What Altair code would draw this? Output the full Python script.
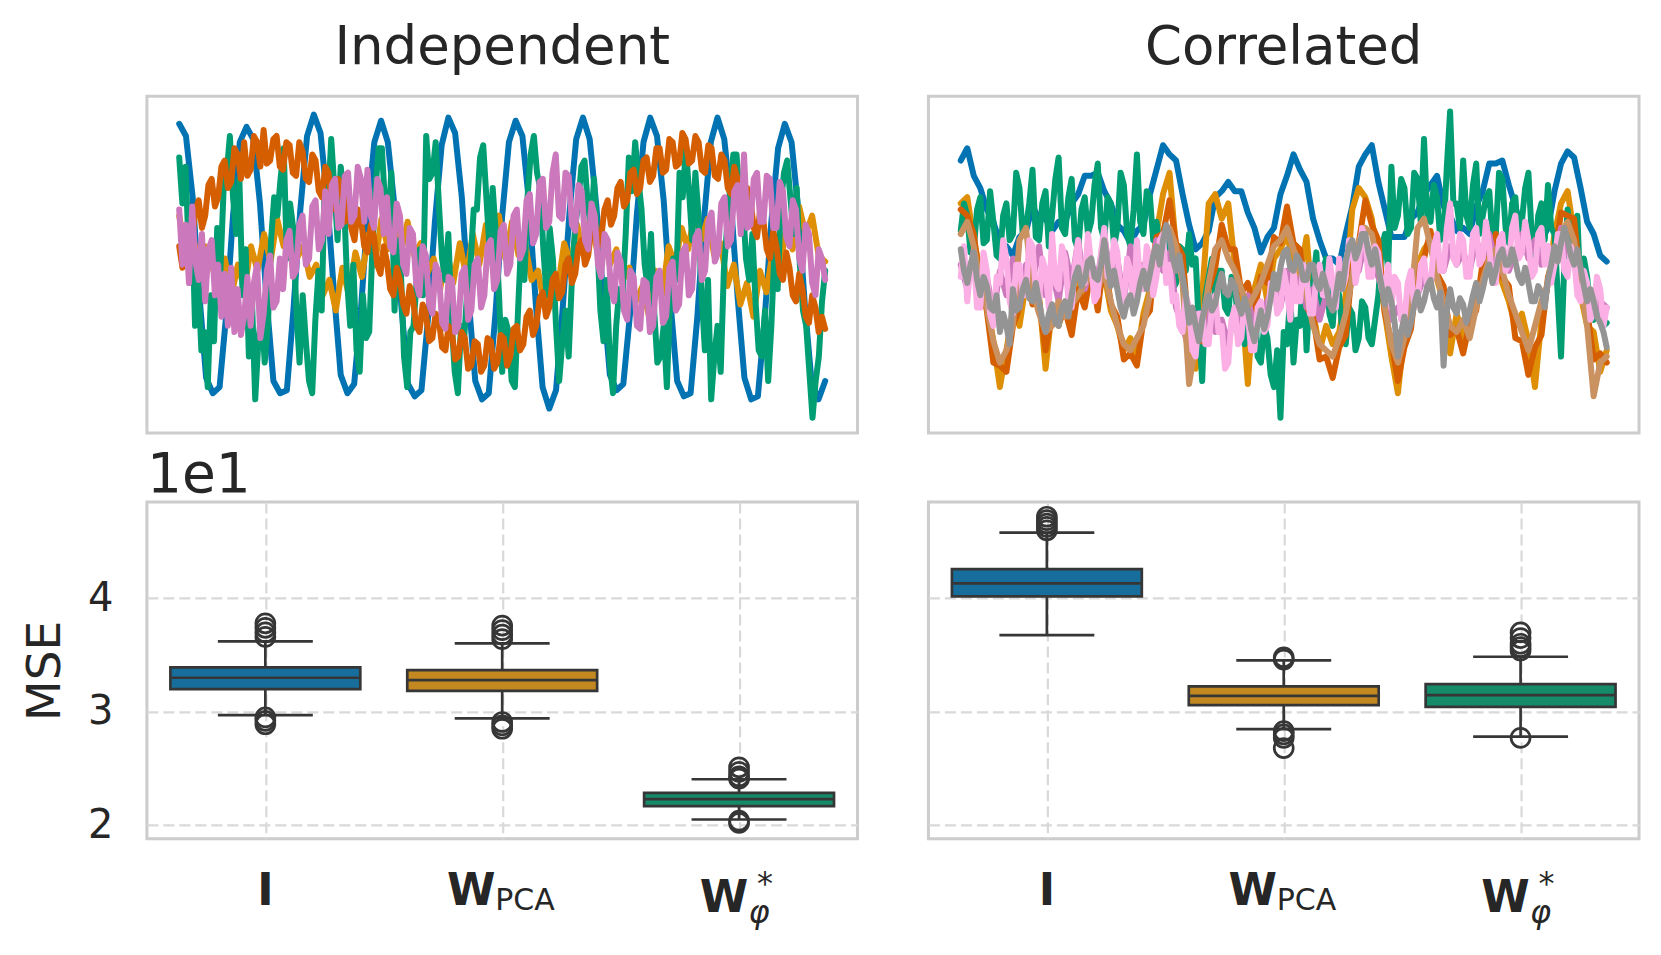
import altair as alt
import pandas as pd

FONT = "DejaVu Sans"
INK = "#262626"
EDGE = "#363636"
GRID = "#d9d9d9"

palette = {
    "blue": "#0173b2", "orange": "#de8f05", "green": "#029e73", "red": "#d55e00",
    "pink": "#cc78bc", "brown": "#ca9161", "lightpink": "#fbafe4", "gray": "#949494",
}

# ---------------- top-left: Independent (display units 0-100)
ind_blue = [96, 92, 72, 40, 13, 8, 10, 34, 66, 90,
            95, 91, 70, 38, 12, 8, 9, 36, 68, 92,
            99, 93, 71, 41, 14, 8, 11, 35, 67, 90,
            97, 90, 69, 37, 11, 7, 9, 33, 64, 89,
            98, 93, 72, 39, 12, 6, 8, 34, 66, 90,
            97, 92, 70, 37, 10, 3, 9, 36, 67, 91,
            98, 91, 69, 40, 14, 9, 11, 34, 66, 90,
            98, 92, 71, 38, 12, 7, 8, 33, 65, 90,
            98, 91, 70, 39, 13, 6, 7, 32, 64, 88,
            96, 90, 68, 36, 11, 6, 12]
ind_orange = [66, 54, 61, 49, 56, 50, 42, 52, 40, 50,
              42, 56, 48, 60, 51, 65, 56, 62, 52, 56,
              46, 50, 40, 45, 35, 49, 40, 54, 46, 60,
              50, 65, 55, 68, 54, 64, 53, 57, 47, 52,
              42, 55, 44, 57, 46, 60, 50, 63, 53, 66,
              52, 64, 53, 57, 45, 48, 36, 50, 42, 57,
              50, 63, 53, 66, 55, 60, 50, 55, 45, 49,
              38, 43, 33, 48, 40, 56, 50, 62, 55, 67,
              58, 65, 53, 57, 43, 50, 37, 44, 33, 48,
              41, 55, 48, 62, 55, 69, 60, 66, 53, 51]
ind_green = [85, 70, 82, 55, 68, 30, 45, 22, 28, 10, 40, 25, 62, 48, 74, 80,
             92, 72, 60, 78, 40, 55, 20, 38, 6, 25, 35, 18, 30, 58, 72, 66,
             78, 88, 52, 70, 62, 35, 18, 40, 25, 12, 8, 32, 48, 35, 80, 70,
             91, 75, 58, 82, 72, 45, 30, 50, 22, 15, 40, 26, 28, 55, 75, 88,
             88, 70, 64, 80, 35, 58, 48, 20, 10, 28, 30, 45, 55, 40, 92, 78,
             80, 90, 70, 52, 45, 60, 32, 15, 8, 30, 26, 42, 50, 68, 68, 85,
             89, 72, 55, 75, 60, 40, 15, 32, 28, 12, 10, 35, 58, 45, 72, 86,
             92, 80, 75, 55, 40, 62, 52, 30, 12, 25, 35, 20, 45, 62, 70, 82,
             84, 70, 62, 78, 58, 35, 25, 45, 18, 8, 30, 42, 40, 60, 85, 74,
             90, 78, 68, 50, 42, 60, 35, 18, 20, 30, 10, 38, 52, 45, 80, 72,
             88, 74, 58, 80, 66, 40, 22, 45, 6, 20, 30, 15, 48, 62, 75, 86,
             86, 72, 70, 52, 45, 60, 38, 22, 20, 35, 12, 30, 55, 42, 70, 80,
             84, 72, 60, 75, 50, 35, 30, 15, 0, 12, 20, 38, 48]
ind_red = [56, 49, 62, 55, 58, 68, 71, 62, 66, 76, 78, 69, 72, 82, 84, 75, 77, 88, 86, 78,
           90, 79, 81, 92, 90, 82, 94, 83, 84, 91, 92, 82, 81, 90, 89, 80, 79, 90, 87, 78,
           77, 86, 84, 74, 72, 82, 80, 70, 68, 78, 75, 64, 72, 62, 58, 68, 65, 56, 54, 63,
           59, 50, 47, 56, 51, 42, 40, 49, 45, 37, 34, 43, 39, 30, 28, 37, 34, 25, 26, 34,
           32, 23, 22, 30, 28, 19, 20, 28, 26, 16, 17, 25, 24, 15, 17, 26, 25, 16, 18, 27,
           26, 17, 20, 29, 30, 22, 24, 33, 35, 27, 30, 39, 41, 33, 36, 45, 47, 39, 41, 50,
           52, 44, 47, 56, 58, 50, 53, 62, 64, 56, 59, 68, 71, 63, 66, 75, 77, 69, 71, 80,
           81, 73, 75, 84, 85, 77, 79, 88, 88, 80, 81, 91, 90, 82, 83, 93, 91, 83, 84, 92,
           90, 81, 80, 89, 88, 79, 78, 86, 84, 75, 73, 82, 78, 69, 66, 75, 71, 62, 59, 68,
           64, 55, 52, 61, 56, 47, 45, 54, 49, 40, 38, 47, 42, 33, 31, 40, 36, 28, 33, 29]
ind_pink = [68, 50, 63, 44, 69, 51, 45, 60, 38, 55, 58, 40, 50, 33, 47, 30, 49, 28, 42, 27,
            33, 46, 30, 44, 50, 26, 34, 48, 53, 36, 38, 52, 42, 58, 61, 46, 48, 63, 66, 50,
            52, 69, 71, 55, 58, 74, 60, 76, 78, 62, 63, 79, 80, 64, 66, 82, 78, 64, 81, 66,
            62, 78, 75, 60, 72, 56, 54, 70, 66, 50, 47, 62, 60, 44, 40, 56, 53, 37, 34, 50,
            47, 31, 29, 46, 45, 28, 30, 47, 49, 32, 35, 50, 52, 36, 40, 56, 58, 42, 45, 61,
            63, 47, 50, 66, 68, 52, 55, 71, 73, 57, 60, 77, 78, 62, 64, 80, 86, 66, 65, 80,
            79, 63, 61, 76, 74, 58, 55, 70, 66, 50, 46, 60, 58, 42, 38, 54, 51, 35, 32, 48,
            46, 30, 29, 45, 44, 28, 30, 46, 48, 31, 33, 49, 51, 35, 37, 54, 56, 40, 42, 59,
            61, 45, 48, 64, 67, 51, 54, 70, 72, 56, 58, 74, 76, 60, 86, 62, 63, 78, 80, 64,
            64, 79, 78, 62, 62, 77, 74, 59, 56, 71, 68, 52, 48, 63, 60, 44, 40, 55, 52, 45]

# ---------------- top-right: Correlated (display units 0-100)
cor_blue = [84, 88, 79, 75, 68, 64, 57, 56, 53, 59,
            61, 69, 65, 65, 61, 64, 64, 70, 73, 79,
            79, 80, 74, 70, 63, 61, 57, 61, 63, 73,
            81, 89, 86, 84, 73, 63, 55, 57, 61, 72,
            74, 77, 74, 74, 67, 62, 54, 59, 62, 73,
            79, 86, 81, 77, 65, 58, 52, 52, 50, 60,
            69, 82, 86, 89, 77, 68, 59, 59, 59, 65,
            67, 73, 76, 79, 69, 66, 61, 62, 60, 69,
            74, 83, 83, 84, 76, 69, 61, 59, 52, 58,
            62, 74, 83, 87, 85, 75, 64, 60, 53, 51]
cor_orange = [70, 72, 58, 48, 38, 25, 10, 22, 35, 30,
              44, 38, 40, 16, 36, 30, 38, 29, 44, 38,
              50, 40, 47, 35, 30, 22, 26, 20, 34, 42,
              60, 73, 80, 55, 45, 26, 16, 40, 70, 73,
              65, 70, 50, 40, 11, 42, 50, 38, 52, 55,
              60, 50, 47, 59, 35, 22, 30, 24, 28, 40,
              68, 75, 72, 65, 50, 34, 20, 8, 28, 35,
              50, 55, 58, 45, 38, 21, 34, 26, 30, 40,
              45, 58, 55, 44, 38, 30, 34, 25, 10, 32,
              44, 60, 70, 74, 60, 40, 30, 28, 15, 22]
cor_green = [61, 70, 66, 54, 55, 68, 72, 57, 58, 74, 64, 53, 52, 66, 70, 58, 60, 80, 75, 60,
             62, 70, 81, 59, 58, 70, 74, 56, 66, 78, 85, 62, 60, 72, 78, 58, 55, 68, 72, 60,
             64, 76, 83, 62, 58, 72, 70, 56, 62, 80, 76, 60, 56, 68, 86, 64, 60, 74, 72, 58,
             64, 56, 50, 60, 58, 42, 44, 56, 55, 48, 60, 50, 52, 30, 12, 40, 46, 52, 38, 48,
             48, 36, 34, 46, 44, 30, 36, 24, 28, 38, 40, 20, 18, 30, 26, 14, 10, 22, 0, 28,
             24, 40, 18, 32, 30, 50, 22, 42, 44, 54, 36, 48, 52, 34, 30, 44, 40, 28, 24, 36,
             34, 22, 26, 38, 36, 26, 24, 32, 40, 55, 60, 48, 82, 62, 66, 78, 75, 60, 62, 80,
             78, 64, 91, 66, 64, 76, 72, 58, 60, 82, 100, 70, 70, 62, 84, 66, 62, 76, 83, 60,
             66, 72, 74, 58, 60, 80, 78, 62, 57, 70, 72, 56, 64, 75, 80, 60, 52, 66, 70, 58,
             76, 62, 60, 40, 20, 50, 68, 58, 54, 66, 40, 52, 46, 34, 32, 44, 38, 30, 31]
cor_red = [68, 66, 60, 43, 35, 18, 17, 15, 30, 36,
           48, 37, 38, 22, 34, 31, 35, 27, 42, 36,
           48, 35, 53, 37, 33, 19, 21, 17, 32, 35,
           59, 60, 71, 57, 53, 27, 25, 25, 42, 49,
           63, 55, 55, 41, 44, 35, 46, 44, 59, 57,
           69, 57, 55, 36, 33, 19, 20, 13, 23, 27,
           49, 57, 71, 63, 58, 34, 25, 12, 23, 29,
           48, 52, 61, 47, 43, 27, 29, 21, 31, 35,
           51, 52, 60, 46, 43, 26, 25, 14, 23, 27,
           46, 52, 67, 66, 65, 44, 35, 19, 21, 18]
cor_pink = [50, 42, 55, 38, 46, 34, 48, 40, 52, 36,
            50, 44, 56, 40, 48, 38, 54, 44, 58, 42,
            50, 46, 60, 44, 52, 38, 56, 42, 50, 46,
            58, 48, 54, 36, 30, 22, 34, 26, 38, 28,
            32, 24, 36, 30, 40, 28, 34, 38, 44, 36,
            48, 40, 46, 36, 42, 32, 40, 38, 46, 50,
            56, 48, 58, 52, 46, 40, 32, 36, 30, 42,
            40, 46, 44, 52, 48, 56, 50, 54, 48, 58,
            52, 60, 50, 56, 48, 54, 60, 52, 58, 50,
            56, 52, 62, 54, 50, 44, 40, 34, 38, 36]
cor_brown = [60, 64, 56, 44, 36, 25, 18, 22, 30, 58,
             62, 42, 34, 28, 30, 38, 33, 37, 40, 44,
             46, 42, 48, 38, 30, 24, 22, 26, 30, 40,
             52, 58, 62, 56, 44, 11, 24, 30, 44, 55,
             58, 52, 48, 42, 36, 40, 44, 50, 56, 58,
             62, 55, 48, 40, 30, 24, 22, 20, 26, 34,
             46, 58, 62, 60, 50, 36, 24, 18, 26, 38,
             62, 65, 56, 46, 38, 30, 28, 32, 26, 36,
             45, 52, 55, 48, 40, 34, 28, 22, 30, 38,
             44, 50, 60, 64, 58, 44, 30, 7, 18, 20]
cor_lightpink = [46, 56, 38, 50, 52, 36, 36, 54, 48, 34, 30, 46, 44, 58, 52, 38, 34, 50, 50, 40,
                 40, 58, 56, 42, 38, 52, 48, 36, 60, 44, 42, 56, 52, 38, 36, 50, 58, 44, 44, 60,
                 50, 38, 40, 54, 62, 46, 46, 58, 54, 40, 38, 52, 48, 36, 58, 44, 42, 56, 52, 40,
                 46, 58, 60, 44, 50, 38, 40, 30, 28, 40, 36, 22, 20, 34, 34, 24, 24, 36, 40, 28,
                 30, 16, 18, 32, 36, 24, 26, 38, 34, 22, 22, 36, 38, 28, 30, 44, 44, 34, 36, 48,
                 42, 32, 48, 38, 38, 50, 46, 34, 34, 46, 50, 40, 40, 52, 44, 36, 52, 42, 46, 58,
                 56, 44, 50, 62, 58, 46, 46, 56, 54, 42, 42, 50, 36, 46, 44, 32, 32, 44, 48, 36,
                 38, 50, 52, 42, 42, 56, 60, 48, 48, 62, 70, 52, 50, 60, 58, 46, 46, 60, 62, 50,
                 52, 64, 56, 44, 44, 58, 60, 48, 50, 62, 66, 52, 54, 64, 58, 46, 48, 60, 62, 50,
                 56, 44, 50, 60, 60, 48, 46, 56, 52, 40, 38, 48, 44, 32, 34, 46, 42, 30, 36]
cor_gray = [55, 48, 44, 50, 54, 45, 40, 46, 43, 36, 35, 40, 28, 34, 30, 24, 42, 35, 36, 42,
            45, 39, 38, 44, 38, 32, 28, 34, 37, 31, 30, 36, 38, 33, 40, 46, 49, 43, 45, 51,
            52, 46, 45, 50, 58, 50, 43, 48, 42, 36, 33, 38, 40, 34, 38, 44, 48, 42, 47, 53,
            56, 50, 58, 63, 59, 52, 48, 53, 46, 40, 31, 36, 30, 25, 32, 37, 40, 35, 37, 43,
            47, 41, 40, 45, 43, 37, 34, 39, 35, 29, 25, 30, 35, 29, 33, 39, 47, 42, 49, 54,
            55, 49, 48, 53, 51, 45, 45, 50, 50, 44, 42, 47, 43, 37, 35, 40, 47, 42, 51, 56,
            58, 52, 55, 60, 60, 54, 50, 55, 49, 43, 37, 42, 38, 31, 20, 28, 33, 27, 31, 37,
            41, 35, 38, 43, 45, 39, 36, 41, 17, 35, 42, 36, 34, 39, 37, 31, 35, 40, 44, 38,
            42, 47, 50, 44, 48, 53, 55, 50, 50, 55, 51, 46, 44, 49, 44, 38, 38, 43, 41, 36,
            45, 50, 56, 51, 57, 62, 58, 53, 50, 55, 49, 43, 38, 42, 38, 33, 31, 28, 23]

# ---------------- bottom: MSE box statistics (units of 1e1)
cats = ["I", "W_PCA", "W*"]
box_colors = ["#176d9c", "#c38820", "#168b6a"]

ind_q1 = [3.200, 3.185, 2.168]
ind_med = [3.300, 3.279, 2.229]
ind_q3 = [3.391, 3.368, 2.285]
ind_lo = [2.971, 2.941, 2.050]
ind_hi = [3.621, 3.603, 2.405]
ind_out_I = [3.78, 3.74, 3.70, 3.66, 2.95, 2.92, 2.89]
ind_out_W = [3.76, 3.72, 3.68, 3.64, 2.91, 2.88, 2.85]
ind_out_S = [2.51, 2.47, 2.43, 2.41, 2.04, 2.02]

cor_q1 = [4.018, 3.059, 3.044]
cor_med = [4.132, 3.141, 3.147]
cor_q3 = [4.258, 3.224, 3.244]
cor_lo = [3.676, 2.847, 2.780]
cor_hi = [4.579, 3.453, 3.485]
cor_out_I = [4.72, 4.69, 4.66, 4.63, 4.60]
cor_out_W = [3.48, 3.46, 2.83, 2.80, 2.77, 2.68]
cor_out_S = [3.70, 3.65, 3.60, 3.57, 3.54, 2.77]


def long_frame(named):
    rows = []
    for k, (name, vals) in enumerate(named):
        n = len(vals)
        for i, v in enumerate(vals):
            rows.append({"s": f"{k}_{name}", "col": palette[name], "t": i / (n - 1), "v": v})
    return pd.DataFrame(rows)


def top_panel(named, title):
    df = long_frame(named)
    return alt.Chart(df).mark_line(strokeWidth=6, strokeJoin="round", strokeCap="round").encode(
        x=alt.X("t:Q", scale=alt.Scale(domain=[-0.05, 1.05], nice=False, zero=False), axis=None),
        y=alt.Y("v:Q", scale=alt.Scale(domain=[-5, 105], nice=False, zero=False), axis=None),
        color=alt.Color("col:N", scale=None, legend=None),
        detail="s:N",
    ).properties(
        width=711, height=337,
        title=alt.TitleParams(title, fontSize=53, font=FONT, fontWeight="normal",
                              color=INK, offset=21, anchor="middle"),
    )


YSC = alt.Scale(domain=[1.88, 4.85], nice=False, zero=False)


def bottom_panel(q1, med, q3, lo, hi, outs, show_axis):
    box = pd.DataFrame({"cat": cats, "col": box_colors, "q1": q1, "med": med,
                        "q3": q3, "lo": lo, "hi": hi})
    ocat, oval = [], []
    for c, vals in zip(cats, outs):
        ocat += [c] * len(vals)
        oval += vals
    out = pd.DataFrame({"cat": ocat, "v": oval})

    gridkw = dict(grid=True, gridColor=GRID, gridDash=[11, 5], gridWidth=2.2, ticks=False, domain=False)
    if show_axis:
        yaxis = alt.Axis(values=[2, 3, 4], format="d", labelFontSize=40, labelColor=INK,
                         labelPadding=34, labelFont=FONT, title="MSE", titleFontSize=47,
                         titleFontWeight="normal", titleColor=INK, titlePadding=18,
                         titleFont=FONT, **gridkw)
    else:
        yaxis = alt.Axis(values=[2, 3, 4], labels=False, title=None, **gridkw)
    xenc = alt.X("cat:N", scale=alt.Scale(type="point", padding=0.5, domain=cats),
                 axis=alt.Axis(labels=False, title=None, **gridkw))

    def Y(f):
        return alt.Y(f, scale=YSC, axis=yaxis)

    b = alt.Chart(box)
    whisk = b.mark_rule(color=EDGE, strokeWidth=2.7).encode(x=xenc, y=Y("lo:Q"), y2="hi:Q")
    cap_lo = b.mark_tick(color=EDGE, size=95, thickness=2.7, opacity=1).encode(x=xenc, y=Y("lo:Q"))
    cap_hi = b.mark_tick(color=EDGE, size=95, thickness=2.7, opacity=1).encode(x=xenc, y=Y("hi:Q"))
    bar = b.mark_bar(size=190, stroke=EDGE, strokeWidth=2.7, opacity=1).encode(
        x=xenc, y=Y("q1:Q"), y2="q3:Q",
        color=alt.Color("col:N", scale=None, legend=None))
    medt = b.mark_tick(color=EDGE, size=188, thickness=2.7, opacity=1).encode(x=xenc, y=Y("med:Q"))
    pts = alt.Chart(out).mark_point(shape="circle", filled=False, size=361, strokeWidth=2.7,
                                    color=EDGE, opacity=1).encode(x=xenc, y=Y("v:Q"))

    lab = alt.Chart(pd.DataFrame({"cat": cats}))
    tk = dict(color=INK, font=FONT, baseline="alphabetic")
    t1 = lab.transform_filter(alt.datum.cat == "I").mark_text(
        text="I", fontSize=44, fontWeight="bold", align="center", **tk).encode(x=xenc, y=alt.value(403))
    t2 = lab.transform_filter(alt.datum.cat == "W_PCA").mark_text(
        text="W", fontSize=44, fontWeight="bold", align="center", dx=-31, **tk).encode(x=xenc, y=alt.value(403))
    t3 = lab.transform_filter(alt.datum.cat == "W_PCA").mark_text(
        text="PCA", fontSize=30, align="left", dx=-7, **tk).encode(x=xenc, y=alt.value(408))
    t4 = lab.transform_filter(alt.datum.cat == "W*").mark_text(
        text="W", fontSize=44, fontWeight="bold", align="center", dx=-15, **tk).encode(x=xenc, y=alt.value(410))
    t5 = lab.transform_filter(alt.datum.cat == "W*").mark_text(
        text="*", fontSize=32, align="center", dx=26, **tk).encode(x=xenc, y=alt.value(392))
    t6 = lab.transform_filter(alt.datum.cat == "W*").mark_text(
        text="φ", fontSize=32, fontStyle="italic", align="center", dx=20, **tk).encode(x=xenc, y=alt.value(421))

    layers = [whisk, cap_lo, cap_hi, bar, medt, pts, t1, t2, t3, t4, t5, t6]
    if show_axis:
        off = alt.Chart(pd.DataFrame({"k": [0]})).mark_text(
            text="1e1", fontSize=55, align="left", **tk).encode(x=alt.value(0), y=alt.value(-10))
        layers.append(off)
    return alt.layer(*layers).properties(width=711, height=337)


tl = top_panel([("blue", ind_blue), ("orange", ind_orange), ("green", ind_green),
                ("red", ind_red), ("pink", ind_pink)], "Independent")
tr = top_panel([("blue", cor_blue), ("orange", cor_orange), ("green", cor_green),
                ("red", cor_red), ("pink", cor_pink), ("brown", cor_brown),
                ("lightpink", cor_lightpink), ("gray", cor_gray)], "Correlated")
bl = bottom_panel(ind_q1, ind_med, ind_q3, ind_lo, ind_hi,
                  [ind_out_I, ind_out_W, ind_out_S], True)
br = bottom_panel(cor_q1, cor_med, cor_q3, cor_lo, cor_hi,
                  [cor_out_I, cor_out_W, cor_out_S], False)

chart = alt.concat(
    tl, tr, bl, br, columns=2,
    spacing=alt.RowColnumber(row=69, column=71),
    bounds="flush",
    padding={"left": 12, "top": 12, "right": 12, "bottom": 10},
).configure(font=FONT).configure_view(stroke="#cccccc", strokeWidth=3)

chart.save("out.html", embed_options={"renderer": "svg", "actions": False})
